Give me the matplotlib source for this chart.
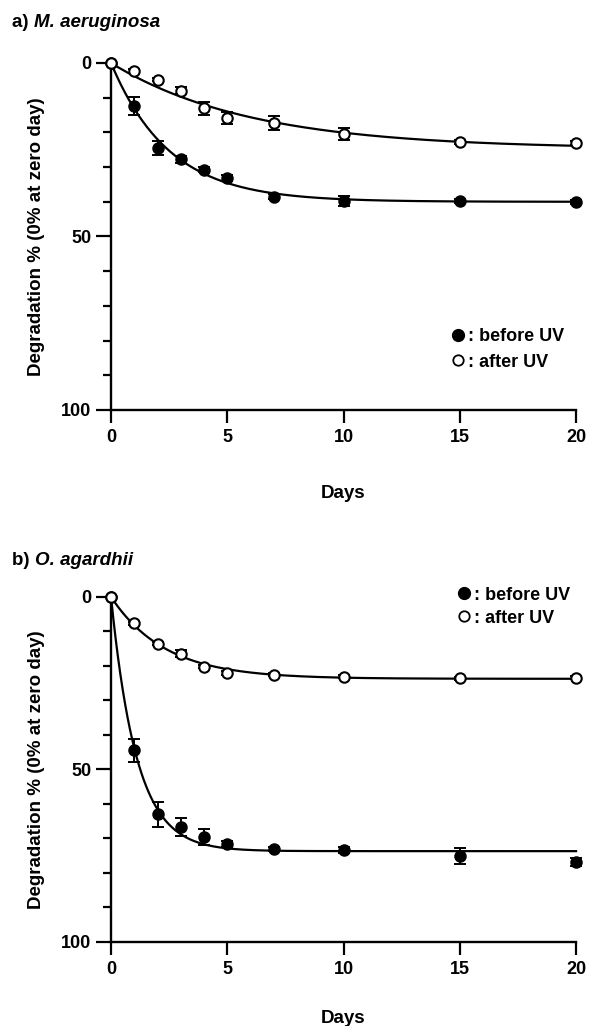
import numpy as np
import matplotlib
matplotlib.use("Agg")
import matplotlib.pyplot as plt
from matplotlib.lines import Line2D

plt.rcParams['font.family'] = ['Liberation Sans', 'DejaVu Sans']
plt.rcParams['font.weight'] = 'bold'
plt.rcParams['axes.labelweight'] = 'bold'

days = [0, 1, 2, 3, 4, 5, 7, 10, 15, 20]

# panel a: M. aeruginosa
a_before = [0, 12.4, 24.5, 27.7, 30.7, 33.1, 38.5, 39.8, 39.8, 40.0]
a_before_err = [0, 2.5, 2.0, 1.0, 0.8, 0.8, 0.8, 1.5, 0.6, 0.6]
a_after = [0, 2.3, 4.8, 8.0, 13.1, 15.9, 17.4, 20.5, 22.8, 23.1]
a_after_err = [0, 0.5, 0.5, 1.0, 2.0, 1.8, 2.0, 1.8, 0.5, 0.5]

# panel b: O. agardhii
b_before = [0, 44.5, 63.0, 66.6, 69.5, 71.6, 73.1, 73.4, 75.0, 76.9]
b_before_err = [0, 3.3, 3.6, 2.6, 2.3, 1.0, 0.5, 0.8, 2.3, 1.2]
b_after = [0, 7.7, 13.5, 16.4, 20.2, 22.0, 22.5, 23.1, 23.6, 23.4]
b_after_err = [0, 0.5, 0.5, 1.0, 0.5, 0.5, 0.5, 0.5, 0.5, 0.5]

titles = ["a) ", "b) "]
species = ["M. aeruginosa", "O. agardhii"]
xticks = [0, 5, 10, 15, 20]
ylabel = "Degradation % (0% at zero day)"
xlabel = "Days"
legend_labels = [": before UV", ": after UV"]


def fit_exp(x, y):
    x = np.asarray(x, float)
    y = np.asarray(y, float)
    best = None
    for k in np.linspace(0.01, 3, 3000):
        f = 1 - np.exp(-k * x)
        A = np.sum(y * f) / np.sum(f * f)
        r = np.sum((y - A * f) ** 2)
        if best is None or r < best[0]:
            best = (r, A, k)
    return best[1], best[2]


fig = plt.figure(figsize=(5.89, 10.26), dpi=100)
ax_a = fig.add_axes([0.1885, 0.6004, 0.7895, 0.3382])
ax_b = fig.add_axes([0.1885, 0.0819, 0.7895, 0.3363])

panels = [
    (ax_a, a_before, a_before_err, a_after, a_after_err, titles[0], species[0],
     (0.734, 0.235), 0.45, 36, 28),
    (ax_b, b_before, b_before_err, b_after, b_after_err, titles[1], species[1],
     (0.748, 1.030), 0.33, 32, 23),
]

FS = 13
xs = np.linspace(0, 20, 400)
for ax, yb, eb, ya, ea, t, sp, legpos, lspace, tpad, xlpad in panels:
    for y, e, fc in [(yb, eb, 'black'), (ya, ea, 'white')]:
        A, k = fit_exp(days, y)
        ax.plot(xs, A * (1 - np.exp(-k * xs)), color='black', lw=1.6, clip_on=False, zorder=2)
        ax.errorbar(days, y, yerr=e, fmt='none', ecolor='black', elinewidth=1.4,
                    capsize=4, capthick=1.4, clip_on=False, zorder=3)
        ax.plot(days, y, 'o', ms=7.5, mfc=fc, mec='black', mew=1.5, clip_on=False, zorder=4)
    ax.set_xlim(0, 20)
    ax.set_ylim(100, 0)
    ax.set_xticks(xticks)
    ax.set_yticks([0, 50, 100])
    ax.set_yticks(np.arange(0, 101, 10), minor=True)
    ax.tick_params(axis='x', which='major', length=9, width=1.6, labelsize=FS, pad=5)
    ax.tick_params(axis='y', which='major', length=11, width=1.6, labelsize=FS, pad=3)
    ax.tick_params(axis='y', which='minor', length=6, width=1.6)
    ax.tick_params(axis='x', which='minor', length=0)
    for s in ['top', 'right']:
        ax.spines[s].set_visible(False)
    for s in ['left', 'bottom']:
        ax.spines[s].set_linewidth(1.7)
    ax.set_ylabel(ylabel, fontsize=13.5, fontweight='bold', labelpad=12)
    ax.set_xlabel(xlabel, fontsize=13.5, fontweight='bold', labelpad=xlpad)
    ax.annotate(t, xy=(-0.213, 1.0), xycoords='axes fraction', xytext=(0, tpad),
                textcoords='offset pixels', fontsize=13.5, ha='left', va='baseline')
    ax.annotate(sp, xy=(1, 0), xycoords=ax.texts[-1], fontsize=13.5, style='italic',
                ha='left', va='bottom')
    handles = [Line2D([], [], ls='none', marker='o', ms=8.5, mfc='black', mec='black'),
               Line2D([], [], ls='none', marker='o', ms=7.5, mfc='white', mec='black', mew=1.3)]
    ax.legend(handles, legend_labels, loc='upper left', bbox_to_anchor=legpos, frameon=False,
              fontsize=FS, handlelength=0.6, handletextpad=0.25, labelspacing=lspace,
              borderpad=0, borderaxespad=0)

fig.savefig('out.png', dpi=100)
